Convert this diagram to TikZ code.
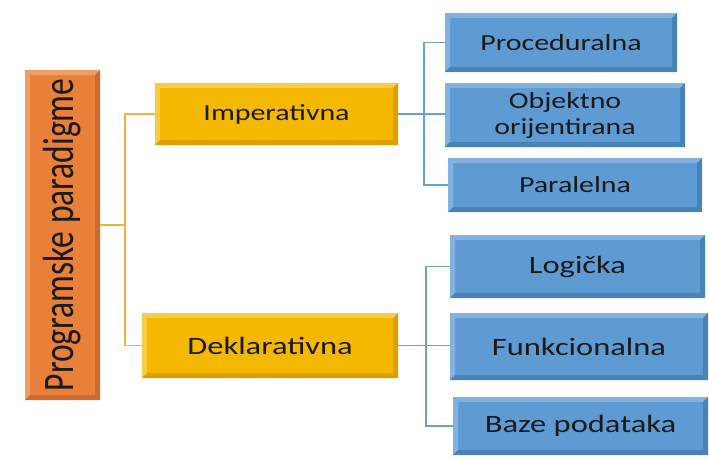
\documentclass[tikz,border=0pt]{standalone}
\usepackage{fontspec}
\usepackage{graphicx}
\setmainfont[FakeStretch=1.3]{Carlito}
\newfontfamily\rootfont{Carlito}
\usetikzlibrary{calc}
\definecolor{orfill}{HTML}{E8803A}
\definecolor{orlight}{HTML}{F29E62}
\definecolor{ordark}{HTML}{CC6A30}
\definecolor{gofill}{HTML}{F5B800}
\definecolor{golight}{HTML}{F9CC45}
\definecolor{godark}{HTML}{DDA000}
\definecolor{blfill}{HTML}{5E9BD3}
\definecolor{bllight}{HTML}{82B3E0}
\definecolor{bldark}{HTML}{4882B8}
\definecolor{goline}{HTML}{F0B43C}
\definecolor{blline}{HTML}{6A9FD4}
\definecolor{txt}{HTML}{1A1A1A}
\tikzset{
  bevel/.style n args={3}{fill=#1, path picture={
    \fill[#2] (path picture bounding box.north west) -- (path picture bounding box.north east)
      -- ([shift={(-5pt,-5pt)}]path picture bounding box.north east)
      -- ([shift={(5pt,-5pt)}]path picture bounding box.north west) -- cycle;
    \fill[#2] (path picture bounding box.north west) -- (path picture bounding box.south west)
      -- ([shift={(5pt,5pt)}]path picture bounding box.south west)
      -- ([shift={(5pt,-5pt)}]path picture bounding box.north west) -- cycle;
    \fill[#3] (path picture bounding box.south west) -- (path picture bounding box.south east)
      -- ([shift={(-5pt,5pt)}]path picture bounding box.south east)
      -- ([shift={(5pt,5pt)}]path picture bounding box.south west) -- cycle;
    \fill[#3] (path picture bounding box.north east) -- (path picture bounding box.south east)
      -- ([shift={(-5pt,5pt)}]path picture bounding box.south east)
      -- ([shift={(-5pt,-5pt)}]path picture bounding box.north east) -- cycle;
  }},
  box/.style={rectangle, inner sep=0pt, text=txt, align=center,
    font=\fontsize{23}{26}\selectfont},
  bigtext/.style={font=\fontsize{25}{28}\selectfont},
  rootbox/.style={box, bevel={orfill}{orlight}{ordark}},
  midbox/.style={box, bevel={gofill}{golight}{godark}},
  leafbox/.style={box, bevel={blfill}{bllight}{bldark}},
  golink/.style={draw=goline, line width=1.5pt},
  bllink/.style={draw=blline, line width=1.5pt},
}
\begin{document}
\begin{tikzpicture}[x=1pt,y=-1pt]
\useasboundingbox (0,0) rectangle (709,461);
\node[rootbox, minimum width=75pt, minimum height=330pt] (root) at (62.5,235)
  {\rotatebox{90}{\rootfont\fontsize{33.5}{36}\selectfont\scalebox{1}[1.3]{Programske paradigme}}};
\node[midbox, minimum width=243pt, minimum height=62pt] (imp) at (276.5,114) {Imperativna};
\node[midbox, bigtext, minimum width=256pt, minimum height=65pt] (dek) at (270,345.5) {Deklarativna};
\node[leafbox, minimum width=232pt, minimum height=59pt] (proc) at (561,42.5) {Proceduralna};
\node[leafbox, minimum width=240pt, minimum height=64pt] (obj) at (565,115) {Objektno\\orijentirana};
\node[leafbox, minimum width=254pt, minimum height=54pt] (par) at (575,185) {Paralelna};
\node[leafbox, bigtext, minimum width=255pt, minimum height=63pt] (log) at (577.5,266.5) {Logička};
\node[leafbox, bigtext, minimum width=258pt, minimum height=67pt] (fun) at (579,346.5) {Funkcionalna};
\node[leafbox, bigtext, minimum width=255pt, minimum height=58pt] (baz) at (580.5,426) {Baze podataka};
\coordinate (j1) at (125,225);
\coordinate (j2) at (424,0);
\coordinate (j3) at (426,0);
\draw[golink] (root.east |- j1) -- (j1);
\draw[golink] (imp.west) -| (j1 |- dek.west) -- (dek.west);
\draw[bllink] (imp.east) -- (imp.east -| obj.west);
\draw[bllink] (proc.west) -| (j2 |- par.west) -- (par.west);
\draw[bllink] (dek.east) -- (dek.east -| fun.west);
\draw[bllink] (log.west) -| (j3 |- baz.west) -- (baz.west);
\end{tikzpicture}
\end{document}
